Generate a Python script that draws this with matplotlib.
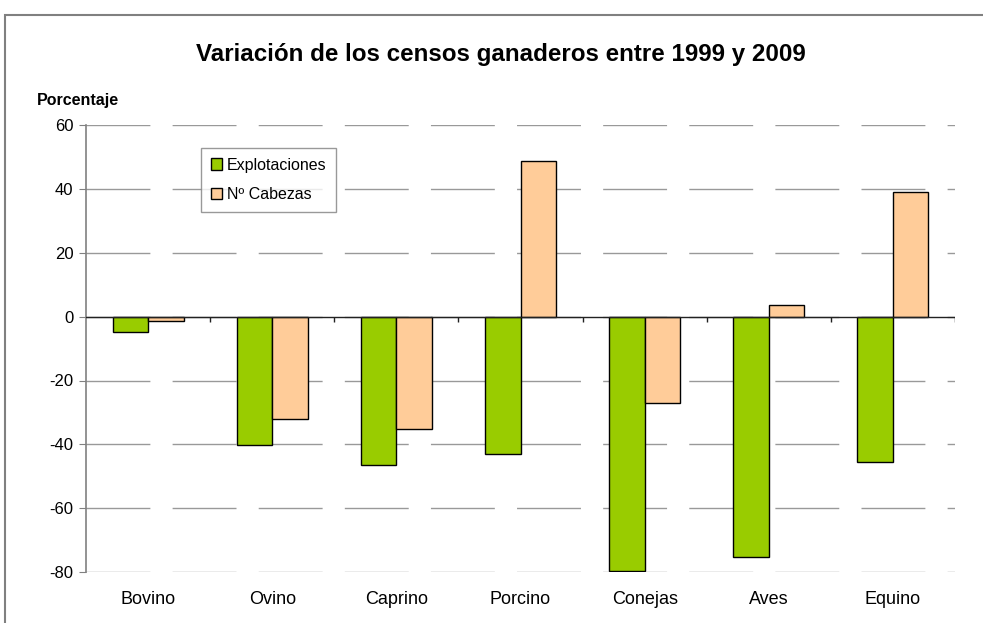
import matplotlib
matplotlib.use("Agg")
import matplotlib.pyplot as plt
import numpy as np
from matplotlib.patches import Rectangle

categories = ["Bovino", "Ovino", "Caprino", "Porcino", "Conejas", "Aves", "Equino"]
explotaciones = [-4.9, -40.2, -46.4, -42.9, -79.6, -75.3, -45.4]
cabezas = [-1.3, -32.2, -35.2, 48.8, -27.0, 3.8, 39.1]
yticks = [60, 40, 20, 0, -20, -40, -60, -80]

plt.rcParams['font.family'] = ['Liberation Sans', 'DejaVu Sans']

fig = plt.figure(figsize=(9.83, 6.23), dpi=100)
fig.patches.append(Rectangle((5/983, -0.1), 1.1, (623-15)/623 + 0.1, transform=fig.transFigure,
                             fill=False, edgecolor='#808080', linewidth=1.5, zorder=0))
ax = fig.add_axes([86/983, (623-571.9)/623, (955-86)/983, (571.9-125.3)/623])

x = np.arange(len(categories))
w = 1/3.5
ax.bar(x - w/2, explotaciones, w, color='#99CC00', edgecolor='black', linewidth=1, label='Explotaciones', zorder=3)
ax.bar(x + w/2, cabezas, w, color='#FFCC99', edgecolor='black', linewidth=1, label='Nº Cabezas', zorder=3)

ax.set_xlim(-0.5, len(categories) - 0.5)
ax.set_ylim(-80, 60)
ax.set_yticks(yticks)
ax.set_yticklabels([str(v) for v in yticks], fontsize=12)
ax.yaxis.grid(True, color='#999999', linestyle=(0, (46, 16)), linewidth=1)
ax.set_axisbelow(True)

ax.set_xticks(x)
ax.set_xticklabels(categories, fontsize=13)
ax.tick_params(axis='x', length=0, pad=14)
ax.tick_params(axis='y', length=5, color='#808080', direction='out', pad=4)

for s in ['top', 'right', 'bottom']:
    ax.spines[s].set_visible(False)
ax.spines['left'].set_color('#808080')
ax.spines['left'].set_linewidth(1.2)

ax.axhline(0, color='#222222', linewidth=1, zorder=4)
bounds = np.arange(len(categories) + 1) - 0.5
ax.vlines(bounds[1:], -1.6, 0, color='#222222', linewidth=1, zorder=4)

fig.text(501/983, (623-55)/623, "Variación de los censos ganaderos entre 1999 y 2009",
         ha='center', va='center', fontsize=17.4, fontweight='bold')
fig.text(37/983, (623-100)/623, "Porcentaje", ha='left', va='center', fontsize=11.5, fontweight='bold')

leg = ax.legend(loc='upper left', bbox_to_anchor=((201-86)/869, (571.9-148)/446.6),
                frameon=True, fancybox=False, edgecolor='#808080', fontsize=11.5,
                handlelength=0.7, handleheight=0.7, handletextpad=0.3, borderpad=0.6,
                labelspacing=0.9, borderaxespad=0)
leg.get_frame().set_linewidth(1)

fig.savefig("out.png", dpi=100)
